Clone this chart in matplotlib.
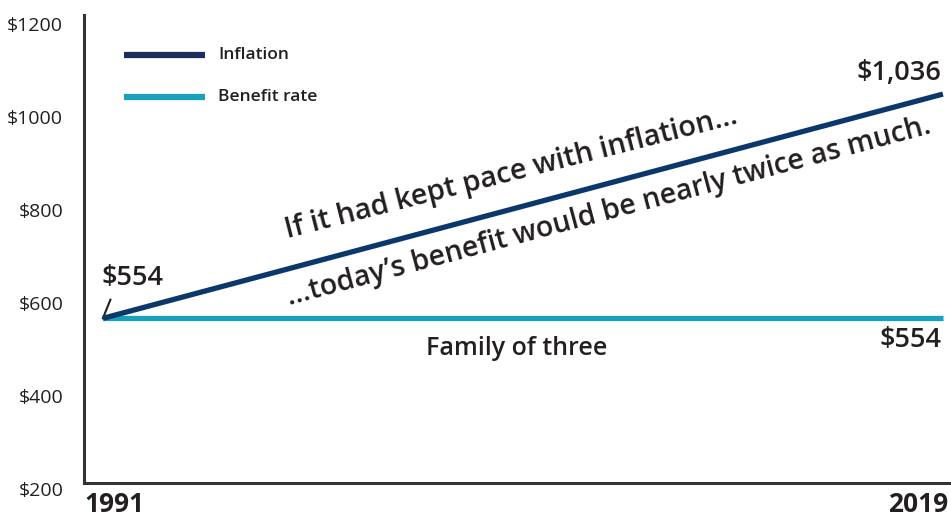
import matplotlib
matplotlib.use('Agg')
import matplotlib.pyplot as plt
import matplotlib.transforms as mtransforms

plt.rcParams['font.family'] = ['Open Sans', 'DejaVu Sans']

years = [1991, 2019]
inflation = [554, 1036]
benefit = [554, 554]
yticks = [200, 400, 600, 800, 1000, 1200]
ytick_labels = ['$200', '$400', '$600', '$800', '$1000', '$1200']

navy = '#0b386b'
navy_leg = '#1b2f5c'
teal = '#1aa0be'
txt = '#231f20'

fig = plt.figure(figsize=(9.51, 5.21), dpi=100)
ax = fig.add_axes([84/951, 38/521, 867/951, 468/521])

ax.plot(years, inflation, color=navy, lw=3.8, solid_capstyle='butt', zorder=3)
ax.plot(years, benefit, color=teal, lw=3.8, solid_capstyle='butt', zorder=2)

ax.set_xlim(1990.37, 2019.27)
ax.set_ylim(200, 1206)
ax.set_yticks(yticks)
ax.set_yticklabels(ytick_labels, fontsize=14, color=txt)
ax.set_xticks([])
ax.tick_params(axis='y', length=0, pad=15)
off = mtransforms.ScaledTranslation(0, -6/100, fig.dpi_scale_trans)
for lab in ax.get_yticklabels():
    lab.set_transform(lab.get_transform() + off)

for s in ['top', 'right']:
    ax.spines[s].set_visible(False)
for s in ['left', 'bottom']:
    ax.spines[s].set_color('#333333')
    ax.spines[s].set_linewidth(2.2)

# year labels
ax.text(0.0, -0.047, '1991', transform=ax.transAxes, ha='left', va='center',
        fontsize=19, fontweight='bold', color=txt)
ax.text(0.997, -0.047, '2019', transform=ax.transAxes, ha='right', va='center',
        fontsize=19, fontweight='bold', color=txt)

# legend
ax.plot([1991.7, 1994.4], [1120, 1120], color=navy_leg, lw=4.5, solid_capstyle='butt', clip_on=False)
ax.plot([1991.7, 1994.4], [1029, 1029], color=teal, lw=4.5, solid_capstyle='butt', clip_on=False)
ax.text(1994.85, 1120, 'Inflation', fontsize=12.5, fontweight='semibold', color=txt, va='center')
ax.text(1994.85, 1029, 'Benefit rate', fontsize=12.5, fontweight='semibold', color=txt, va='center')

# value labels
ax.plot([1991, 1991.25], [554, 594], color=txt, lw=1.5)
ax.text(1990.95, 640, '$554', fontsize=19.5, fontweight='semibold', color=txt, ha='left', va='center')
ax.text(2018.95, 1082, '$1,036', fontsize=19.5, fontweight='semibold', color=txt, ha='right', va='center')
ax.text(2018.95, 508, '$554', fontsize=19.5, fontweight='semibold', color=txt, ha='right', va='center')
ax.text(2004.8, 490, 'Family of three', fontsize=18, fontweight='semibold', color=txt, ha='center', va='center')

# slanted notes
ax.text(2004.6, 866, 'If it had kept pace with inflation\u2026', fontsize=20.8, fontweight='semibold',
        color=txt, ha='center', va='center', rotation=14.3, rotation_mode='anchor')
ax.text(2007.85, 782, '\u2026today\u2019s benefit would be nearly twice as much.', fontsize=20.5,
        fontweight='semibold', color=txt, ha='center', va='center', rotation=15.0, rotation_mode='anchor')

fig.savefig('out.png', dpi=100)
